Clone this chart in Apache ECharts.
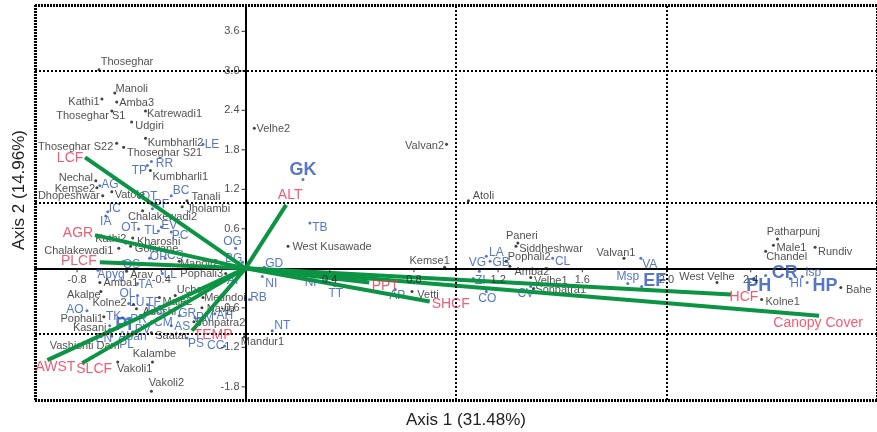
<!DOCTYPE html>
<html><head><meta charset="utf-8">
<script src="https://cdn.jsdelivr.net/npm/echarts@6/dist/echarts.min.js"></script>
<style>html,body{margin:0;padding:0;background:#fff}#c{width:877px;height:432px}</style>
</head><body><div id="c"></div>
<script>
// ---- data ----
const siteNames = ['Thoseghar','Manoli','Kathi1','Amba3','Thoseghar S1','Katrewadi1','Udgiri','Thoseghar S22','Thoseghar S21','Kumbharli2','Nechal','Kemse2','Dhopeshwar','Vatole','Tanali','Kumbharli1','Jholambi','Chalakewadi2','Kharoshi','Golivane','Kathi2','Chalakewadi1','Manoli2','Pophali3','Arav','Amba1','Akalpe','Kolne2','Pophali1','Kasani','Vashishti Dam','Adoshi','Male2','Uchat','Metindoi','Navja','Sonpatra2','Saatar','Mandur1','Kalambe','Vakoli1','Vakoli2','Velhe2','Valvan2','West Kusawade','Atoli','Kemse1','Vetti','Paneri','Siddheshwar','Pophali2','Amba2','Velhe1','Sonpatra1','Valvan1','West Velhe','Patharpunj','Male1','Chandel','Rundiv','Kolne1','Bahe'];
const siteX = [-0.696,-0.621,-0.682,-0.612,-0.635,-0.475,-0.541,-0.612,-0.579,-0.475,-0.711,-0.706,-0.678,-0.635,-0.278,-0.452,-0.301,-0.489,-0.536,-0.546,-0.569,-0.602,-0.315,-0.094,-0.565,-0.692,-0.687,-0.532,-0.673,-0.645,-0.588,-0.518,-0.409,-0.334,-0.202,-0.207,-0.245,-0.447,-0.005,-0.442,-0.607,-0.447,0.042,0.955,0.202,1.059,0.946,0.791,1.294,1.285,1.238,1.256,1.355,1.369,1.798,2.240,2.527,2.508,2.471,2.706,2.452,2.828];
const siteY = [3.017,2.665,2.573,2.527,2.389,2.389,2.221,1.899,1.838,1.975,1.332,1.225,1.103,1.164,1.026,1.485,0.934,0.873,0.459,0.337,0.383,0.306,0.107,-0.077,-0.046,-0.214,-0.352,-0.551,-0.735,-0.934,-1.087,-0.613,-0.444,-0.413,-0.444,-0.597,-0.812,-0.980,-1.041,-1.424,-1.424,-1.868,2.129,1.884,0.337,1.026,0.015,-0.352,0.383,0.337,0.107,0.031,-0.138,-0.306,0.153,-0.214,0.444,0.352,0.260,0.322,-0.475,-0.291];

const speciesNames = ['LE','AG','DT','BC','TP','RR','PF','IC','IA','OT','TL','EV','PC','OG','BG','OP','CS','OS','Apyg','LL','AI','TA','OL','LU','TF','DG','AO','TK','PI','PR','EN','PV','CM','Aban','PL','GR','AS','PM','AH','PS','CC','NT','NI','GD','RB','NF','TT','TB','GK','AP','VG','LA','GB','CL','ZI','CO','CV','VA','Msp','EF','CR','PH','HI','Isp','HP'];
const speciesX = [-0.202,-0.692,-0.504,-0.353,-0.466,-0.447,-0.442,-0.654,-0.664,-0.508,-0.414,-0.400,-0.353,-0.047,-0.014,-0.456,-0.381,-0.579,-0.701,-0.395,-0.099,-0.513,-0.513,-0.555,-0.466,-0.466,-0.753,-0.584,-0.645,-0.560,-0.635,-0.536,-0.447,-0.560,-0.612,-0.315,-0.353,-0.240,-0.146,-0.278,-0.099,0.127,0.080,0.089,0.019,0.381,0.424,0.306,0.273,0.711,1.111,1.144,1.162,1.459,1.082,1.144,1.355,1.878,1.816,1.882,2.471,2.414,2.588,2.645,2.668];
const speciesY = [1.884,1.256,1.072,1.103,1.562,1.623,0.904,0.858,0.796,0.597,0.567,0.628,0.551,0.306,0.092,0.153,0.153,0.107,-0.031,-0.077,-0.138,-0.230,-0.413,-0.536,-0.551,-0.658,-0.643,-0.750,-0.873,-0.766,-1.026,-0.965,-0.812,-1.011,-1.149,-0.720,-0.873,-0.750,-0.689,-1.057,-1.179,-0.949,-0.123,0.015,-0.475,-0.184,-0.260,0.689,1.348,-0.322,-0.046,0.184,0.107,0.153,-0.153,-0.352,-0.276,0.153,-0.230,-0.276,-0.107,-0.153,-0.153,-0.123,-0.214];

const envNames = ['LCF','AGR','PLCF','AWST','SLCF','TEMP','ALT','PPT','SHCF','HCF','Canopy Cover'];
const envX = [-0.762,-0.715,-0.692,-0.941,-0.776,-0.254,0.193,0.588,0.875,2.306,2.725];
const envY = [1.685,0.505,0.092,-1.394,-1.440,-0.949,0.965,-0.214,-0.505,-0.398,-0.720];

const xTickValues = [-0.8,-0.4,0.4,0.8,1.2,1.6,2.0,2.4];
const yTickValues = [-1.8,-1.2,-0.6,0.6,1.2,1.8,2.4,3.0,3.6];

// ---- styles (label placement relative to each mark, in px) ----
const siteOff = {'Thoseghar':[28,-8],'Manoli':[17,-4],'Kathi1':[-18,3],'Amba3':[20,1],'Thoseghar S1':[-21,5],'Katrewadi1':[29,3],'Udgiri':[18,4],'Thoseghar S22':[-41,4],'Thoseghar S21':[41,6],'Kumbharli2':[30,5],'Nechal':[-20,-3],'Kemse2':[-22,1],'Dhopeshwar':[-34,0],'Vatole':[18,3],'Tanali':[19,-4],'Kumbharli1':[30,6],'Jholambi':[26,2],'Chalakewadi2':[20,6],'Kharoshi':[26,4],'Golivane':[26,3],'Kathi2':[-15,-4],'Chalakewadi1':[-40,3],'Manoli2':[20,3],'Pophali3':[-24,1],'Arav':[15,4],'Amba1':[21,1],'Akalpe':[-17,3],'Kolne2':[-24,-2],'Pophali1':[-22,2],'Kasani':[-20,-2],'Vashishti Dam':[-37,6],'Adoshi':[23,3],'Male2':[18,4],'Uchat':[16,-6],'Metindoi':[22,0],'Navja':[19,1],'Sonpatra2':[26,1],'Saatar':[20,3],'Mandur1':[18,5],'Kalambe':[2,-8],'Vakoli1':[17,7],'Vakoli2':[15,-8],'Velhe2':[19,1],'Valvan2':[-22,2],'West Kusawade':[44,1],'Atoli':[15,-5],'Kemse1':[-15,-6],'Vetti':[16,3],'Paneri':[4,-7],'Siddheshwar':[35,3],'Pophali2':[23,-4],'Amba2':[22,6],'Velhe1':[20,4],'Sonpatra1':[27,1],'Valvan1':[-8,-5],'West Velhe':[-10,-5],'Patharpunj':[16,-7],'Male1':[18,3],'Chandel':[21,6],'Rundiv':[20,5],'Kolne1':[21,2],'Bahe':[18,2]};
const speciesOff = {'LE':[9,0],'AG':[10,-1],'DT':[10,-1],'BC':[10,-5],'TP':[-8,5],'RR':[13,2],'PF':[9,-4],'IC':[7,-3],'IA':[0,6],'OT':[-9,-1],'TL':[-7,0],'EV':[8,-1],'PC':[9,4],'OG':[-3,-7],'BG':[-9,-4],'OP':[9,-2],'CS':[10,-3],'OS':[8,3],'Apyg':[13,4],'LL':[8,1],'AI':[8,3],'TA':[8,1],'OL':[-10,-2],'LU':[8,-1],'TF':[6,-2],'DG':[9,-1],'AO':[-12,-1],'TK':[-9,-1],'PI':[14,-1],'PR':[11,1],'EN':[-8,3],'PV':[10,-2],'CM':[12,1],'Aban':[5,2],'PL':[10,1],'GR':[8,-2],'AS':[11,1],'PM':[10,0],'AH':[10,2],'PS':[9,6],'CC':[-9,0],'NT':[10,-5],'NI':[9,7],'GD':[10,-4],'RB':[9,-2],'NF':[-13,2],'TT':[1,8],'TB':[10,5],'GK':[0,-10],'AP':[2,6],'VG':[-2,-9],'LA':[10,-4],'GB':[11,1],'CL':[10,3],'ZI':[7,2],'CO':[1,7],'CV':[-5,7],'VA':[9,6],'Msp':[0,-7],'EF':[13,-5],'CR':[19,-2],'PH':[5,8],'HI':[6,5],'Isp':[11,-4],'HP':[18,4]};
const bigSpecies = ['GK','CR','PH','HP','EF','PI'];
const envOff = {'LCF':[-15,1],'AGR':[-17,-2],'PLCF':[-21,-1],'AWST':[8,7],'SLCF':[12,6],'TEMP':[21,4],'ALT':[4,-10],'PPT':[16,4],'SHCF':[21,3],'HCF':[13,3],'Canopy Cover':[-1,7]};

const FONT = '"Liberation Sans", Arial, sans-serif';
const RED = '#ec3350', BLUE = '#2b55b8', GREEN = '#0b9444', BLACK = '#1e1e1e';

const chart = echarts.init(document.getElementById('c'), null, {renderer:'canvas'});

const dotted = {color:'#000', type:[2,2], width:2};
const border = {color:'#000', type:[2,1], width:3};

const option = {
  animation:false,
  backgroundColor:'#fff',
  grid:{left:35, right:-8, top:5, bottom:32, show:false},
  xAxis:{type:'value', min:-1, max:3,
    axisLine:{onZero:true, lineStyle:{color:'#000', width:2}},
    axisTick:{show:false}, axisLabel:{show:false}, splitLine:{show:false}},
  yAxis:{type:'value', min:-2, max:4,
    axisLine:{onZero:true, lineStyle:{color:'#000', width:2}},
    axisTick:{show:false}, axisLabel:{show:false}, splitLine:{show:false}},
  graphic:[
    {type:'text', x:466, y:420, style:{text:'Axis 1 (31.48%)', textAlign:'center', textVerticalAlign:'middle', font:'17px '+FONT, fill:'#222'}},
    {type:'text', x:19, y:190, rotation:Math.PI/2, style:{text:'Axis 2 (14.96%)', textAlign:'center', textVerticalAlign:'middle', font:'17px '+FONT, fill:'#222'}}
  ],
  series:[
    {type:'scatter', name:'sites', z:3, symbol:'circle', symbolSize:3,
      itemStyle:{color:'#111'},
      label:{show:true, position:'inside', formatter:'{b}', color:BLACK, fontSize:11, fontFamily:FONT},
      data:siteNames.map((n,i)=>({name:n, value:[siteX[i],siteY[i]], label:{offset:siteOff[n]||[15,0]}})),
      markLine:{silent:true, symbol:'none', label:{show:false}, lineStyle:dotted,
        data:[{xAxis:1},{xAxis:2},{yAxis:-1},{yAxis:1},{yAxis:3},
          {xAxis:-1, lineStyle:border},{xAxis:3, lineStyle:border},{yAxis:-2, lineStyle:border},{yAxis:4, lineStyle:border}]}
    },
    {type:'scatter', name:'species', z:3, symbol:'circle', symbolSize:3,
      itemStyle:{color:BLUE},
      label:{show:true, position:'inside', formatter:'{b}', color:BLUE, fontSize:12, fontFamily:FONT},
      data:speciesNames.map((n,i)=>{
        const big = bigSpecies.indexOf(n) >= 0;
        return {name:n, value:[speciesX[i],speciesY[i]],
          label:{offset:speciesOff[n]||[10,0], fontSize:big?18:12, fontWeight:big?'bold':'normal'}};
      })
    },
    {type:'lines', name:'vectors', coordinateSystem:'cartesian2d', z:4, polyline:false,
      lineStyle:{color:GREEN, width:4, opacity:1},
      data:envNames.map((n,i)=>({coords:[[0,0],[envX[i],envY[i]]]}))
    },
    {type:'scatter', name:'envLabels', z:5, symbolSize:0,
      label:{show:true, position:'inside', formatter:'{b}', color:RED, fontSize:14, fontFamily:FONT},
      data:envNames.map((n,i)=>({name:n, value:[envX[i],envY[i]], label:{offset:envOff[n]||[10,0]}}))
    },
    {type:'scatter', name:'xTicks', z:6, silent:true, symbol:'rect', symbolSize:[1,4], symbolOffset:[0,2],
      itemStyle:{color:'#000'},
      label:{show:true, position:'bottom', distance:2, color:'#222', fontSize:11, fontFamily:FONT,
        formatter:p=>p.value[0].toFixed(1)},
      data:xTickValues.map(v=>[v,0])
    },
    {type:'scatter', name:'yTicks', z:6, silent:true, symbol:'rect', symbolSize:[4,1], symbolOffset:[-2,0],
      itemStyle:{color:'#000'},
      label:{show:true, position:'left', distance:2, color:'#222', fontSize:11, fontFamily:FONT,
        formatter:p=>p.value[1].toFixed(1)},
      data:yTickValues.map(v=>[0,v])
    }
  ]
};
chart.setOption(option);
</script></body></html>
